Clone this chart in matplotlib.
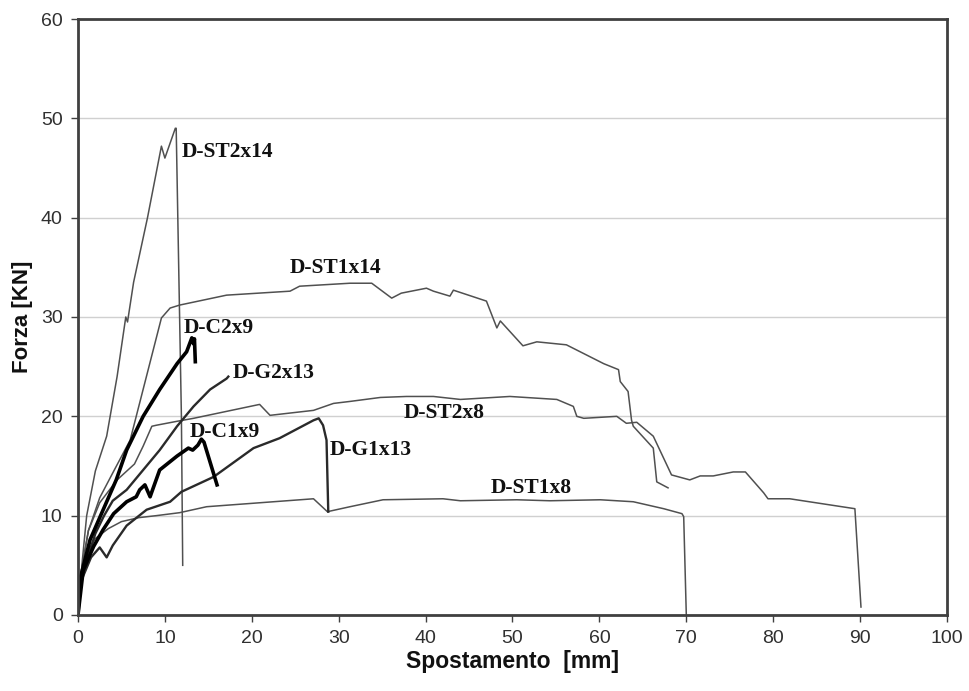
import matplotlib
matplotlib.use("Agg")
import matplotlib.pyplot as plt

# curve data (spostamento mm, forza kN)
st2x14_x = [0, 0.5, 1.0, 2.0, 3.3, 4.5, 5.5, 5.7, 6.4, 8.0, 9.6, 10.0, 11.2, 11.3, 11.9, 12.05]
st2x14_y = [0, 5.5, 10.0, 14.5, 18.0, 24.0, 30.0, 29.5, 33.5, 40.0, 47.2, 46.0, 49.0, 49.0, 20.0, 5.0]

st1x14_x = [0, 0.4, 1.2, 2.5, 4.0, 6.0, 9.6, 10.6, 11.7, 17.1, 24.4, 25.5, 31.3, 33.8, 36.1, 37.2,
            40.1, 40.9, 42.8, 43.2, 47.0, 48.2, 48.6, 51.2, 52.8, 56.2, 60.5, 62.2, 62.4, 63.3,
            63.7, 63.9, 66.2, 66.6, 67.9]
st1x14_y = [0, 4.5, 8.5, 11.8, 14.3, 17.6, 29.9, 30.9, 31.2, 32.2, 32.6, 33.1, 33.4, 33.4, 31.9, 32.4,
            32.9, 32.6, 32.1, 32.7, 31.6, 28.9, 29.6, 27.1, 27.5, 27.2, 25.3, 24.7, 23.5, 22.5,
            19.6, 19.0, 16.8, 13.4, 12.8]

st2x8_x = [0, 0.4, 1.2, 2.5, 4.5, 6.5, 7.5, 8.5, 9.0, 11.4, 13.3, 20.9, 22.1, 27.1, 29.4, 31.3,
           34.8, 37.8, 40.9, 44.0, 49.7, 55.1, 57.0, 57.4, 58.2, 62.0, 63.1, 64.3, 66.2, 68.3,
           70.4, 71.6, 73.1, 75.4, 76.8, 78.9, 79.4, 81.9, 89.4, 90.1]
st2x8_y = [0, 4.5, 8.5, 11.3, 13.6, 15.2, 17.0, 19.0, 19.1, 19.5, 19.8, 21.2, 20.1, 20.6, 21.3, 21.5,
           21.9, 22.0, 22.0, 21.7, 22.0, 21.7, 21.0, 20.0, 19.8, 20.0, 19.3, 19.4, 18.0, 14.1,
           13.6, 14.0, 14.0, 14.4, 14.4, 12.3, 11.7, 11.7, 10.7, 0.8]

st1x8_x = [0, 0.3, 1.0, 2.0, 3.5, 5.0, 7.0, 9.0, 11.7, 14.8, 27.1, 28.7, 31.3, 35.1, 42.0, 44.0,
           50.5, 54.3, 60.1, 63.9, 67.4, 69.5, 69.7, 70.0]
st1x8_y = [0, 3.5, 6.2, 7.7, 8.7, 9.4, 9.8, 10.0, 10.3, 10.9, 11.7, 10.4, 10.9, 11.6, 11.7, 11.5,
           11.6, 11.5, 11.6, 11.4, 10.7, 10.2, 9.9, 0.0]

g2x13_x = [0, 0.4, 1.0, 2.0, 3.0, 4.0, 5.6, 7.5, 9.4, 11.4, 13.3, 15.2, 17.1, 17.3]
g2x13_y = [0, 3.5, 5.5, 8.2, 10.0, 11.5, 12.6, 14.6, 16.6, 19.0, 21.0, 22.7, 23.8, 24.0]

g1x13_x = [0, 0.4, 1.5, 2.5, 3.3, 4.0, 5.6, 7.9, 10.6, 11.9, 15.6, 20.2, 23.2, 27.1, 27.7, 28.2,
           28.6, 28.8]
g1x13_y = [0, 3.5, 5.8, 6.8, 5.8, 7.0, 9.0, 10.6, 11.4, 12.4, 13.9, 16.8, 17.8, 19.6, 19.8, 19.1,
           17.6, 10.4]

c2x9_x = [0, 0.2, 1.4, 2.9, 4.4, 5.6, 7.5, 9.4, 11.4, 12.5, 13.1, 13.3, 13.4, 13.5]
c2x9_y = [0, 3.5, 7.6, 10.6, 13.6, 16.6, 20.0, 22.7, 25.3, 26.5, 27.9, 27.3, 27.8, 25.5]

c1x9_x = [0, 0.6, 1.8, 2.9, 4.1, 5.6, 6.7, 7.1, 7.7, 8.3, 8.5, 9.4, 11.4, 12.7, 13.2, 13.8, 14.2,
          14.5, 16.0]
c1x9_y = [0, 4.5, 6.9, 8.6, 10.2, 11.4, 11.9, 12.6, 13.1, 11.9, 12.4, 14.6, 16.0, 16.8, 16.6, 17.1,
          17.7, 17.4, 13.1]

labels = ["D-ST2x14", "D-ST1x14", "D-C2x9", "D-G2x13", "D-ST2x8", "D-C1x9", "D-G1x13", "D-ST1x8"]
label_x = [11.9, 24.4, 12.2, 17.8, 37.5, 12.9, 29.0, 47.5]
label_y = [46.6, 34.9, 28.9, 24.4, 20.3, 18.4, 16.6, 12.8]

fig = plt.figure(figsize=(9.7, 6.91), dpi=100)
ax = fig.add_axes([0.0804, 0.110, 0.8959, 0.8625])

thin = dict(color="#505050", lw=1.1)
mid = dict(color="#2a2a2a", lw=1.7)
thick = dict(color="#000000", lw=2.6)

ax.plot(st2x14_x, st2x14_y, **thin)
ax.plot(st1x14_x, st1x14_y, **thin)
ax.plot(st2x8_x, st2x8_y, **thin)
ax.plot(st1x8_x, st1x8_y, **thin)
ax.plot(g2x13_x, g2x13_y, **mid)
ax.plot(g1x13_x, g1x13_y, **mid)
ax.plot(c2x9_x, c2x9_y, **thick)
ax.plot(c1x9_x, c1x9_y, **thick)

for t, x, y in zip(labels, label_x, label_y):
    ax.text(x, y, t, family="Liberation Serif", weight="bold", fontsize=15.5,
            ha="left", va="center", color="#111111")

ax.set_xlim(0, 100)
ax.set_ylim(0, 60)
ax.set_xticks(range(0, 101, 10))
ax.set_yticks(range(0, 61, 10))
ax.yaxis.grid(True, color="#d0d0d0", lw=1.0)
ax.set_axisbelow(True)
for s in ax.spines.values():
    s.set_color("#404040")
    s.set_linewidth(2.0)
ax.tick_params(direction="out", length=5, width=1, color="#404040",
               labelsize=14, labelcolor="#303030", pad=6)
for lab in ax.get_xticklabels() + ax.get_yticklabels():
    lab.set_family("Liberation Sans")

ax.set_xlabel("Spostamento  [mm]", family="Liberation Sans", weight="bold", fontsize=16.5,
              color="#111111", labelpad=2)
ax.set_ylabel("Forza [KN]", family="Liberation Sans", weight="bold", fontsize=16,
              color="#111111", labelpad=6)

fig.savefig("out.png", dpi=100)
